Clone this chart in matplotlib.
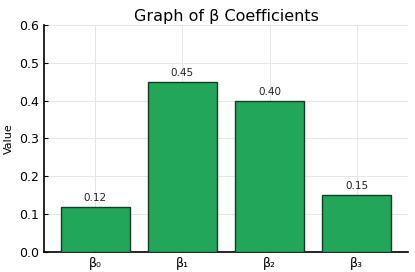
import matplotlib.pyplot as plt

# data
labels = ['β₀', 'β₁', 'β₂', 'β₃']
values = [0.12, 0.45, 0.40, 0.15]

fig, ax = plt.subplots(figsize=(4.15, 2.72), dpi=100)
fig.subplots_adjust(left=0.106, right=0.983, top=0.908, bottom=0.074)

x = range(len(labels))
bars = ax.bar(x, values, width=0.8, color='#22a65a', edgecolor='#1a3a28', linewidth=1.0, zorder=3)

for b, v in zip(bars, values):
    ax.text(b.get_x() + b.get_width() / 2, v + 0.01, f'{v:.2f}',
            ha='center', va='bottom', fontsize=7.5, color='#222222')

ax.set_xticks(list(x))
ax.set_xticklabels(labels, fontsize=9)
ax.set_ylim(0, 0.6)
ax.set_yticks([0.0, 0.1, 0.2, 0.3, 0.4, 0.5, 0.6])
ax.tick_params(axis='both', direction='in', labelsize=9, length=3)
ax.set_ylabel('Value', fontsize=8)
ax.set_title('Graph of β Coefficients', fontsize=11.5, pad=3)

ax.grid(True, color='#e6e6e6', linewidth=0.7, zorder=0)
ax.spines['top'].set_visible(False)
ax.spines['right'].set_visible(False)
ax.spines['left'].set_linewidth(1.2)
ax.spines['bottom'].set_linewidth(1.2)

plt.savefig('out.png', dpi=100)
